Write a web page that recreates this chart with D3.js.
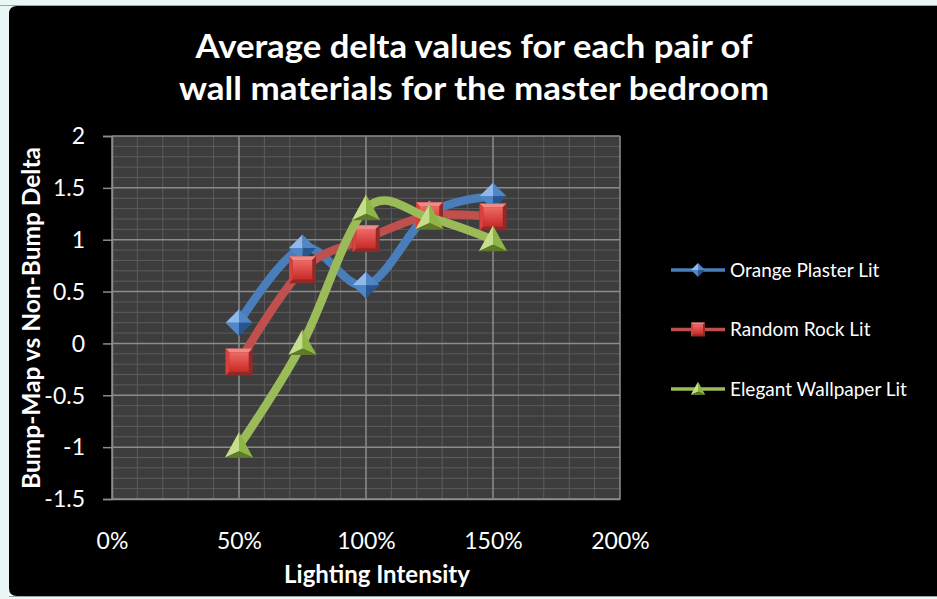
<!DOCTYPE html>
<html>
<head>
<meta charset="utf-8">
<script src="https://cdn.jsdelivr.net/npm/d3@7"></script>
<style>
html,body{margin:0;padding:0;background:#eaf5f5;}
svg{display:block;}
text{font-family:Lato,"Open Sans",sans-serif;fill:#ffffff;}
</style>
</head>
<body>
<svg id="chart" width="937" height="599"></svg>
<script>
// ---------- data ----------
const categories = [50, 75, 100, 125, 150]; // lighting intensity, %
const orangePlaster = [0.2, 0.92, 0.56, 1.25, 1.42];
const randomRock = [-0.18, 0.71, 1.01, 1.23, 1.22];
const elegantWallpaper = [-0.99, 0.0, 1.3, 1.21, 1.0];
const seriesNames = ["Orange Plaster Lit", "Random Rock Lit", "Elegant Wallpaper Lit"];
const xTicks = [0, 50, 100, 150, 200];
const yTicks = [-1.5, -1, -0.5, 0, 0.5, 1, 1.5, 2];
const titleLines = ["Average delta values for each pair of", "wall materials for the master bedroom"];
const xTitle = "Lighting Intensity";
const yTitle = "Bump-Map vs Non-Bump Delta";

const seriesData = [orangePlaster, randomRock, elegantWallpaper];
const seriesStyle = [
  {color:"#4a7ebb", light:"#8fb8ec", mid:"#4f86c8", dark:"#2a568e", shape:"diamond"},
  {color:"#c0504d", light:"#f08a87", mid:"#d9413d", dark:"#8e2a28", shape:"square"},
  {color:"#9bbb59", light:"#c4de8c", mid:"#8fb547", dark:"#5e7a2a", shape:"triangle"}
];

const svg = d3.select("#chart");

// chart background (black rounded panel)
svg.append("rect").attr("x",0).attr("y",0).attr("width",937).attr("height",599).attr("fill","#eaf5f5");
svg.append("line").attr("x1",0).attr("x2",937).attr("y1",5.5).attr("y2",5.5).attr("stroke","#9aa6a6").attr("stroke-width",1);
svg.append("path")
  .attr("d","M9,14 Q9,6 17,6 L937,6 L937,596 L17,596 Q9,596 9,588 Z")
  .attr("fill","#000000");
svg.append("line").attr("x1",9).attr("x2",937).attr("y1",596.5).attr("y2",596.5).attr("stroke","#9aa6a6").attr("stroke-width",1);

// ---------- scales ----------
const plot = {left:112, right:620, top:136, bottom:499};
const x = d3.scaleLinear().domain([0,200]).range([plot.left, plot.right]);
const y = d3.scaleLinear().domain([-1.5,2]).range([plot.bottom, plot.top]);

// plot background
svg.append("rect").attr("x",plot.left).attr("y",plot.top)
  .attr("width",plot.right-plot.left).attr("height",plot.bottom-plot.top).attr("fill","#3d3d3d");

// minor grid
const minorX = d3.range(0, 201, 10).filter(v => v % 50 !== 0);
const minorY = d3.range(-15, 21, 1).map(v => v/10).filter(v => Math.abs(v*2 - Math.round(v*2)) > 1e-6);
const grid = svg.append("g");
grid.selectAll(".mx").data(minorX).enter().append("line")
  .attr("x1",d=>x(d)).attr("x2",d=>x(d)).attr("y1",plot.top).attr("y2",plot.bottom)
  .attr("stroke","#5c5c5c").attr("stroke-width",1);
grid.selectAll(".my").data(minorY).enter().append("line")
  .attr("x1",plot.left).attr("x2",plot.right).attr("y1",d=>y(d)).attr("y2",d=>y(d))
  .attr("stroke","#5c5c5c").attr("stroke-width",1);
// major grid
grid.selectAll(".Mx").data(xTicks).enter().append("line")
  .attr("x1",d=>x(d)).attr("x2",d=>x(d)).attr("y1",plot.top).attr("y2",plot.bottom)
  .attr("stroke","#8c8c8c").attr("stroke-width",1.5);
grid.selectAll(".My").data(yTicks).enter().append("line")
  .attr("x1",plot.left).attr("x2",plot.right).attr("y1",d=>y(d)).attr("y2",d=>y(d))
  .attr("stroke","#8c8c8c").attr("stroke-width",1.5);

// axes
const yAxis = svg.append("g").attr("transform",`translate(${plot.left},0)`)
  .call(d3.axisLeft(y).tickValues(yTicks).tickSize(9).tickPadding(18).tickFormat(d => String(d)));
yAxis.select(".domain").attr("stroke","#8c8c8c").attr("stroke-width",1.5);
yAxis.selectAll(".tick line").attr("stroke","#8c8c8c").attr("stroke-width",1.5);
yAxis.selectAll(".tick text").attr("font-size",23).attr("font-family","Lato").attr("fill","#fff").attr("dy","0.34em");

const xAxis = svg.append("g").attr("transform",`translate(0,${plot.bottom})`)
  .call(d3.axisBottom(x).tickValues(xTicks).tickSize(0).tickPadding(34).tickFormat(d => d + "%"));
xAxis.select(".domain").attr("stroke","#8c8c8c").attr("stroke-width",1.5);
xAxis.selectAll(".tick text").attr("font-size",23).attr("font-family","Lato").attr("fill","#fff");

// titles
const titleWidths = [557, 590];
svg.selectAll(".title").data(titleLines).enter().append("text")
  .attr("x",474).attr("y",(d,i)=>58 + i*42)
  .attr("text-anchor","middle").attr("font-size",33).attr("font-weight","bold")
  .attr("textLength",(d,i)=>titleWidths[i]).attr("lengthAdjust","spacingAndGlyphs")
  .text(d=>d);
svg.append("text").attr("x",377).attr("y",583).attr("text-anchor","middle")
  .attr("font-size",24).attr("font-weight","bold").text(xTitle);
svg.append("text").attr("transform","translate(40,318) rotate(-90)").attr("text-anchor","middle")
  .attr("font-size",24).attr("font-weight","bold")
  .attr("textLength",342).attr("lengthAdjust","spacingAndGlyphs").text(yTitle);

// ---------- markers ----------
function marker(g, cx, cy, st, s) {
  if (st.shape === "diamond") {
    const T=[cx,cy-s],R=[cx+s,cy],B=[cx,cy+s],L=[cx-s,cy],C=[cx,cy];
    const tri=(a,b,c,f)=>g.append("path").attr("d",`M${a}L${b}L${c}Z`).attr("fill",f);
    tri(T,L,C,st.light); tri(T,R,C,st.mid); tri(R,B,C,st.dark); tri(B,L,C,st.mid);
  } else if (st.shape === "square") {
    const o=s, i=s*0.72;
    g.append("rect").attr("x",cx-o).attr("y",cy-o).attr("width",2*o).attr("height",2*o).attr("fill",st.dark);
    const p=(pts,f)=>g.append("path").attr("d","M"+pts.map(q=>q.join(",")).join("L")+"Z").attr("fill",f);
    p([[cx-o,cy-o],[cx+o,cy-o],[cx+i,cy-i],[cx-i,cy-i]], st.light);
    p([[cx-o,cy-o],[cx-i,cy-i],[cx-i,cy+i],[cx-o,cy+o]], st.mid);
    p([[cx+o,cy-o],[cx+o,cy+o],[cx+i,cy+i],[cx+i,cy-i]], st.dark);
    g.append("rect").attr("x",cx-i).attr("y",cy-i).attr("width",2*i).attr("height",2*i).attr("fill","url(#sq-face)");
  } else {
    const h=s*1.9, w=s*1.05;
    const A=[cx,cy-h*0.55], BL=[cx-w,cy+h*0.45], BR=[cx+w,cy+h*0.45], C=[cx,cy+h*0.2];
    const p=(pts,f)=>g.append("path").attr("d","M"+pts.map(q=>q.join(",")).join("L")+"Z").attr("fill",f);
    p([A,BL,C], st.light); p([A,C,BR], st.mid); p([BL,BR,C], st.dark);
  }
}
const defs = svg.append("defs");
const gr = defs.append("linearGradient").attr("id","sq-face").attr("x1",0).attr("y1",0).attr("x2",0).attr("y2",1);
gr.append("stop").attr("offset","0").attr("stop-color","#ee6a66");
gr.append("stop").attr("offset","1").attr("stop-color","#c92a27");

const line = d3.line().x((d,i)=>x(categories[i])).y(d=>y(d)).curve(d3.curveCardinal.tension(0));
seriesData.forEach((vals, si) => {
  const st = seriesStyle[si];
  const g = svg.append("g");
  g.append("path").datum(vals).attr("d",line).attr("fill","none")
    .attr("stroke",st.color).attr("stroke-width",8.5).attr("stroke-linecap","round").attr("stroke-linejoin","round");
  vals.forEach((v,i) => marker(g, x(categories[i]), y(v), st, 13.5));
});

// ---------- legend ----------
const legend = svg.append("g");
seriesNames.forEach((name, i) => {
  const st = seriesStyle[i];
  const ly = 270 + i*59.5;
  legend.append("line").attr("x1",671).attr("x2",725).attr("y1",ly).attr("y2",ly)
    .attr("stroke",st.color).attr("stroke-width",3.5);
  marker(legend, 698, ly, st, 7);
  legend.append("text").attr("x",730).attr("y",ly).attr("dy","0.35em")
    .attr("font-size",19).text(name);
});
</script>
</body>
</html>
